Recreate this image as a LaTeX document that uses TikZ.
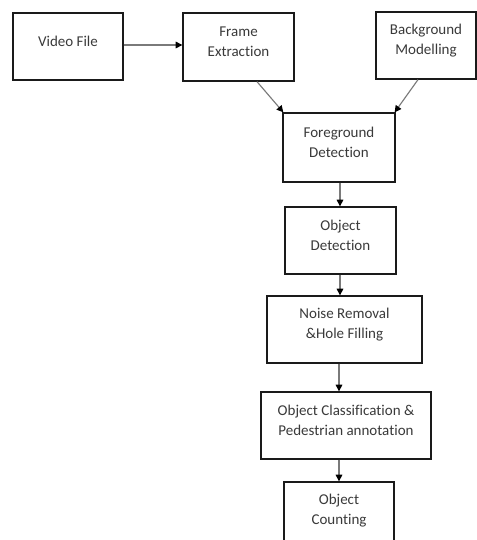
\documentclass[tikz,border=0pt]{standalone}
\usepackage{fontspec}
\setmainfont{Carlito}[Ligatures={NoCommon}]
\usetikzlibrary{arrows.meta,calc}
\definecolor{txtgray}{HTML}{3A3A3A}
\definecolor{linegray}{HTML}{7A7A7A}
\definecolor{boxblack}{HTML}{1A1A1A}
\begin{document}
\begin{tikzpicture}[x=0.75pt,y=-0.75pt,
  stagebox/.style={draw=boxblack,line width=1pt,inner sep=0pt,fill=white},
  stagetext/.style={align=center,text=txtgray,font=\fontsize{11.25pt}{15pt}\selectfont,inner sep=0pt,yshift=3.9pt},
  flow/.style={draw=linegray,line width=0.85pt,-{Triangle[length=5pt,width=5pt,color=black]}}]
\clip (0,0) rectangle (477,540);
\fill[white] (0,0) rectangle (477,540);
% boxes
\node[stagebox,minimum width=110*0.75pt,minimum height=67*0.75pt] (vf) at (68,46.5) {};
\node[stagebox,minimum width=111*0.75pt,minimum height=68*0.75pt] (fe) at (238.5,47) {};
\node[stagebox,minimum width=100*0.75pt,minimum height=67*0.75pt] (bm) at (426,45.5) {};
\node[stagebox,minimum width=112*0.75pt,minimum height=69*0.75pt] (fd) at (339,147.5) {};
\node[stagebox,minimum width=111*0.75pt,minimum height=67*0.75pt] (od) at (340.5,240.5) {};
\node[stagebox,minimum width=155*0.75pt,minimum height=67*0.75pt] (nr) at (344.5,329.5) {};
\node[stagebox,minimum width=170*0.75pt,minimum height=67*0.75pt] (oc) at (346,425.5) {};
\node[stagebox,minimum width=110*0.75pt,minimum height=67*0.75pt] (cnt) at (339,515.5) {};
% texts
\node[stagetext] (vft) at (vf.center) {Video File};
\node[stagetext] (fet) at (fe.center) {Frame\\Extraction};
\node[stagetext] (bmt) at (bm.center) {Background\\Modelling};
\node[stagetext] (fdt) at (fd.center) {Foreground\\Detection};
\node[stagetext] (odt) at (od.center) {Object\\Detection};
\node[stagetext] (nrt) at (nr.center) {Noise Removal\\\&Hole Filling};
\node[stagetext] (oct) at (oc.center) {Object Classification \&\\Pedestrian annotation};
\node[stagetext] (cntt) at (cnt.center) {Object\\Counting};
% connectors
\draw[flow] (vf.east |- 0,45) -- (fe.west |- 0,45);
\draw[flow] ($(fe.south)+(18.5,0)$) -- ($(fd.north west)+(1,0)$);
\draw[flow] ($(bm.south)+(-8,0)$) -- ($(fd.north east)+(-1,0)$);
\draw[flow] (fd.south -| 340,0) -- (od.north -| 340,0);
\draw[flow] (od.south -| 340,0) -- (nr.north -| 340,0);
\draw[flow] (nr.south -| 339,0) -- (oc.north -| 339,0);
\draw[flow] (oc.south -| 339,0) -- (cnt.north -| 339,0);
\end{tikzpicture}
\end{document}
